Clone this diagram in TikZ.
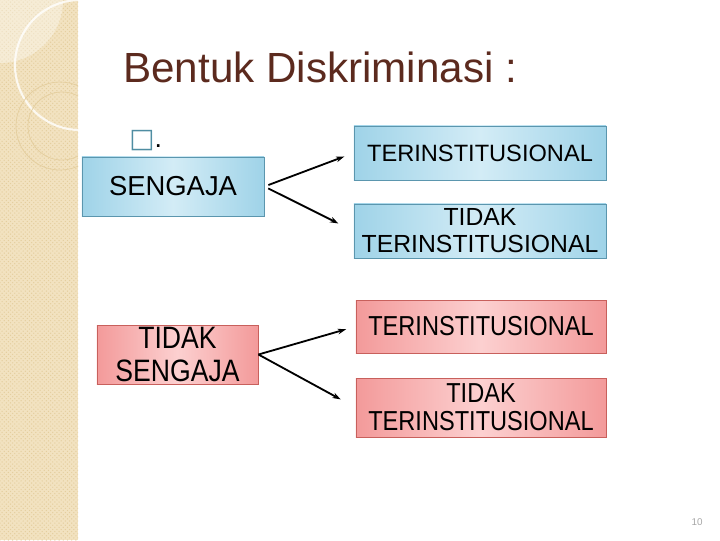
\documentclass[tikz,border=0pt]{standalone}
\usepackage{fontspec}
\setmainfont{Liberation Sans}
\newfontfamily\symfont{DejaVu Sans}
\newfontfamily\narrowF[FakeStretch=0.86]{Liberation Sans}
\usepackage{xcolor}
\usetikzlibrary{arrows.meta,patterns}

\definecolor{titlebrown}{HTML}{5C2A1E}
\definecolor{sidetan}{HTML}{F2E2C0}
\definecolor{sidedot}{HTML}{E4CE9E}
\definecolor{blueedge}{HTML}{9FD3E8}
\definecolor{bluemid}{HTML}{D3ECF6}
\definecolor{blueline}{HTML}{5B96AE}
\definecolor{rededge}{HTML}{F39A9A}
\definecolor{redmid}{HTML}{FCD0D0}
\definecolor{redline}{HTML}{C8605C}
\definecolor{bullet}{HTML}{4F8DA2}

\begin{document}
\begin{tikzpicture}[x=0.025cm, y=-0.025cm,
  bluebox/.style={draw=blueline, line width=0.6pt, left color=blueedge, right color=blueedge, middle color=bluemid, align=center, inner sep=0pt},
  redbox/.style={draw=redline, line width=0.6pt, left color=rededge, right color=rededge, middle color=redmid, align=center, inner sep=0pt},
  link/.style={-{Stealth[length=6pt,width=4pt]}, line width=1.3pt}]
\useasboundingbox (0,0) rectangle (720,540);
% Sidebar
\fill[sidetan] (0,0) rectangle (78,540);
\fill[pattern=crosshatch dots, pattern color=sidedot] (0,0) rectangle (78,540);
\begin{scope}
\clip (0,0) rectangle (78,540);
\fill[white, opacity=0.35] (0,0) circle (63);
\draw[white, opacity=0.8, line width=1.5pt] (80,65) circle (65);
\draw[sidedot, line width=0.5pt] (60,126) circle (44);
\draw[sidedot, line width=0.5pt] (62,126) circle (34);
\end{scope}
% Title
\node[anchor=base west, font=\fontsize{30}{34}\selectfont, text=titlebrown, inner sep=0pt] (title) at (123,82) {Bentuk Diskriminasi :};
\node[anchor=base west, inner sep=0pt, font=\fontsize{19}{21}\selectfont] (mark) at (129,147) {{\symfont\textcolor{bullet}{□}}.};
% Boxes
\node[bluebox, font=\fontsize{19.5}{21}\selectfont, minimum width=4.55cm, minimum height=1.475cm] (sengaja) at (173,186.5) {SENGAJA};
\node[bluebox, font=\fontsize{16.8}{19}\selectfont, minimum width=6.3cm, minimum height=1.35cm] (inst) at (480,153) {TERINSTITUSIONAL};
\node[bluebox, font=\fontsize{17.6}{19.2}\selectfont, minimum width=6.3cm, minimum height=1.35cm] (noinst) at (480,231) {TIDAK\\TERINSTITUSIONAL};
\node[redbox, font=\narrowF\fontsize{22}{22.8}\selectfont, minimum width=4.025cm, minimum height=1.475cm] (tidaksengaja) at (177.5,354.5) {TIDAK\\SENGAJA};
\node[redbox, font=\narrowF\fontsize{19.5}{20}\selectfont, minimum width=6.25cm, minimum height=1.325cm] (rinst) at (481,326.5) {TERINSTITUSIONAL};
\node[redbox, font=\narrowF\fontsize{19.5}{20}\selectfont, minimum width=6.25cm, minimum height=1.475cm] (rnoinst) at (481,407.5) {TIDAK\\TERINSTITUSIONAL};
% Arrows
\draw[link, shorten <=3pt, shorten >=7pt] (sengaja.east) -- (inst.west);
\draw[link, shorten <=3pt, shorten >=12pt] (sengaja.east) -- (noinst.west);
\draw[link, shorten >=7pt] (tidaksengaja.east) -- (rinst.west);
\draw[link, shorten >=12pt] (tidaksengaja.east) -- (rnoinst.west);
% Page number
\node[font=\fontsize{7}{8}\selectfont, text=gray!70] (pagenum) at (697,522) {10};
\end{tikzpicture}
\end{document}
